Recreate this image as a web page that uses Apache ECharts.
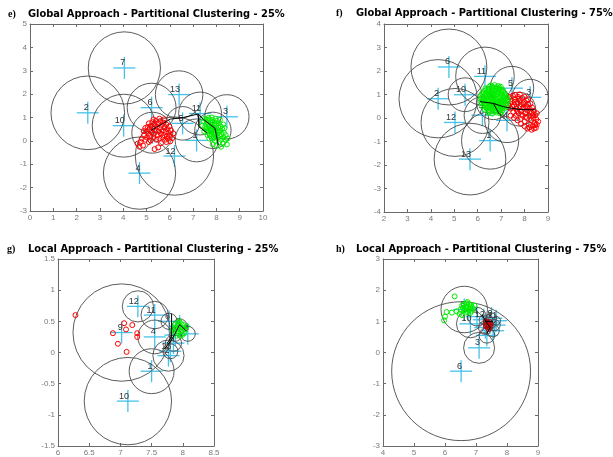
<!DOCTYPE html>
<html>
<head>
<meta charset="utf-8">
<script src="https://cdn.jsdelivr.net/npm/echarts@6/dist/echarts.min.js"></script>
<style>
  html, body { margin: 0; padding: 0; background: #fff; }
  #chart { width: 613px; height: 457px; }
</style>
</head>
<body>
<div id="chart"></div>
<script>
// ---------- e) Global approach, 25% ----------
const eRed = [[4.62,-0.12],[4.70,-0.25],[4.75,-0.05],[4.80,0.10],[4.85,-0.20],[4.90,0.25],[4.95,0.05],[5.00,0.40],[5.02,0.15],[5.05,0.60],[5.08,0.30],[5.10,0.75],[5.12,0.50],[5.15,0.20],[5.18,0.02],[5.20,0.65],[5.22,0.38],[5.25,0.80],[5.28,0.55],[5.30,0.15],[5.32,0.30],[5.35,0.70],[5.38,0.45],[5.40,0.85],[5.42,0.05],[5.45,0.60],[5.48,0.25],[5.50,0.75],[5.52,0.40],[5.55,0.10],[5.58,0.55],[5.60,0.85],[5.62,0.30],[5.65,0.68],[5.68,0.15],[5.70,0.45],[5.72,0.78],[5.75,0.25],[5.78,0.58],[5.80,0.05],[5.82,0.38],[5.85,0.70],[5.88,0.20],[5.90,0.50],[5.92,0.10],[5.95,0.35],[5.98,0.62],[6.00,0.22],[6.05,0.45],[6.10,0.12],[6.15,0.32],[5.35,-0.35],[5.50,-0.28],[5.62,-0.10],[5.85,-0.05],[6.02,-0.02],[5.10,-0.05],[4.95,0.55],[5.55,0.95],[5.30,0.92],[5.75,0.92],[4.88,0.42]];
const eGreen = [[7.45,0.85],[7.50,0.95],[7.55,0.70],[7.58,0.90],[7.60,0.55],[7.62,0.80],[7.65,0.40],[7.68,0.65],[7.70,0.92],[7.72,0.30],[7.74,0.52],[7.76,0.78],[7.78,0.20],[7.80,0.42],[7.82,0.62],[7.84,0.88],[7.86,0.10],[7.88,0.32],[7.90,0.55],[7.92,0.75],[7.94,0.00],[7.96,0.25],[7.98,0.45],[8.00,0.68],[8.02,0.85],[8.04,0.12],[8.06,0.35],[8.08,0.58],[8.10,0.75],[8.12,-0.05],[8.14,0.20],[8.16,0.42],[8.18,0.62],[8.20,0.05],[8.22,0.28],[8.25,0.50],[8.28,-0.12],[8.30,0.15],[8.32,0.35],[8.35,0.55],[8.38,0.05],[8.40,0.25],[8.45,-0.15],[8.48,0.10],[7.52,0.60],[7.66,0.98],[7.80,1.00],[7.95,0.95],[7.70,0.10],[7.85,-0.15],[8.00,-0.20],[8.20,-0.25],[7.62,0.25],[7.58,0.45],[7.90,0.15],[8.10,0.45],[7.85,0.70],[8.00,0.30],[7.75,0.40],[8.15,0.90],[8.30,0.70],[7.40,0.65],[7.48,0.40]];
// cluster centre x, centre y, radius
const eClusters = [[7.15,0.02,0.92],[2.48,1.20,1.58],[8.45,1.03,0.95],[4.70,-1.38,1.55],[6.55,0.75,0.72],[5.22,1.42,1.05],[4.05,3.12,1.55],[7.85,0.45,0.78],[5.25,0.35,0.88],[4.02,0.65,1.35],[7.30,1.17,0.92],[6.20,-0.65,1.68],[6.40,1.98,1.02]];
const eIds = ['1','2','3','4','5','6','7','8','9','10','11','12','13'];
const ePaths = [
  [[5.20,0.45],[6.02,0.93],[6.58,1.00],[7.22,1.15],[7.44,0.92],[7.94,0.54],[8.08,-0.17]],
  [[7.22,1.15],[7.25,0.60],[7.60,0.35]]
];

// ---------- f) Global approach, 75% ----------
const fGreen = [[6.55,1.38],[6.72,1.40],[6.88,1.36],[6.33,1.26],[6.48,1.22],[6.63,1.27],[6.79,1.24],[6.94,1.27],[7.06,1.20],[6.24,1.10],[6.40,1.12],[6.55,1.08],[6.70,1.12],[6.86,1.09],[7.00,1.13],[7.15,1.06],[6.15,0.96],[6.31,0.93],[6.46,0.97],[6.60,0.94],[6.76,0.97],[6.91,0.93],[7.05,0.96],[7.20,0.92],[6.12,0.80],[6.27,0.82],[6.43,0.78],[6.57,0.81],[6.73,0.79],[6.87,0.82],[7.03,0.78],[7.17,0.81],[7.28,0.77],[6.15,0.66],[6.31,0.63],[6.46,0.67],[6.61,0.64],[6.76,0.66],[6.91,0.62],[7.06,0.66],[7.21,0.63],[6.20,0.50],[6.36,0.52],[6.51,0.48],[6.66,0.51],[6.81,0.49],[6.96,0.52],[7.10,0.48],[7.23,0.51],[6.31,0.36],[6.46,0.33],[6.61,0.37],[6.76,0.34],[6.91,0.37],[7.05,0.33],[6.46,0.22],[6.62,0.19],[6.80,0.23],[6.95,0.20],[6.40,1.00],[6.65,0.88],[6.95,0.72],[6.52,0.58],[6.85,0.42],[6.25,0.72],[7.12,0.88],[6.70,1.18],[6.38,0.45],[7.00,0.56],
  [6.47,1.31],[6.64,1.33],[6.81,1.31],[6.98,1.33],[6.32,1.17],[6.47,1.16],[6.62,1.18],[6.78,1.16],[6.93,1.19],[7.09,1.13],[6.20,1.03],[6.36,1.05],[6.52,1.02],[6.68,1.04],[6.83,1.02],[6.98,1.05],[7.13,0.99],[6.19,0.88],[6.35,0.87],[6.50,0.89],[6.66,0.86],[6.81,0.89],[6.97,0.86],[7.11,0.88],[7.24,0.85],[6.20,0.73],[6.35,0.71],[6.51,0.73],[6.66,0.72],[6.81,0.74],[6.97,0.70],[7.13,0.73],[7.26,0.70],[6.26,0.57],[6.41,0.59],[6.57,0.56],[6.72,0.58],[6.88,0.56],[7.03,0.59],[7.17,0.56],[6.38,0.41],[6.54,0.43],[6.69,0.41],[6.84,0.43],[6.99,0.41],[7.14,0.42],[6.53,0.28],[6.70,0.27],[6.87,0.29],[7.02,0.26]];
const fRed = [[7.25,0.75],[7.30,0.55],[7.35,0.90],[7.40,0.40],[7.45,0.70],[7.50,0.95],[7.52,0.25],[7.55,0.55],[7.60,0.80],[7.62,0.10],[7.65,0.40],[7.70,0.65],[7.72,0.90],[7.75,0.20],[7.78,0.50],[7.80,0.75],[7.82,-0.05],[7.85,0.30],[7.88,0.58],[7.90,0.85],[7.92,0.10],[7.95,0.42],[7.98,0.68],[8.00,-0.15],[8.02,0.20],[8.05,0.50],[8.08,0.75],[8.10,0.00],[8.12,0.32],[8.15,0.58],[8.18,-0.25],[8.20,0.10],[8.22,0.40],[8.25,0.62],[8.28,-0.10],[8.30,0.22],[8.32,0.45],[8.35,-0.35],[8.38,0.00],[8.40,0.30],[8.42,-0.20],[8.45,0.12],[8.48,-0.42],[8.50,-0.05],[8.52,-0.28],[8.40,-0.45],[8.30,-0.50],[8.20,-0.40],[8.58,-0.15],[8.52,0.20],[7.40,0.10],[7.55,0.00],[7.70,-0.10],[7.85,-0.25],[8.00,-0.35],[8.12,-0.45],[7.60,0.98],[7.80,1.00],[8.00,0.90],[8.15,0.80],
  [7.38,0.62],[7.48,0.48],[7.58,0.68],[7.68,0.30],[7.75,0.82],[7.88,0.15],[7.95,0.62],[8.05,0.05],[8.12,0.45],[8.25,0.30],[8.35,0.12],[8.45,-0.30]];
const fClusters = [[6.53,-0.96,1.22],[4.31,0.82,1.67],[8.24,0.88,0.77],[7.25,-0.10,0.95],[7.46,1.27,0.93],[4.77,2.17,1.62],[6.20,0.12,0.78],[6.67,0.65,0.72],[7.75,0.38,0.72],[5.46,0.99,0.72],[6.31,1.77,1.25],[5.03,-0.19,1.45],[5.67,-1.75,1.53]];
const fIds = ['1','2','3','4','5','6','7','8','9','10','11','12','13'];
const fPaths = [
  [[6.10,0.70],[6.67,0.62],[7.10,0.48],[7.80,0.36],[8.45,0.35]],
  [[6.67,0.62],[6.90,0.20],[7.15,-0.05]]
];

// ---------- g) Local approach, 25% ----------
const gRed = [[6.28,0.60],[7.06,0.47],[7.19,0.44],[7.09,0.37],[6.88,0.31],[7.27,0.31],[7.27,0.25],[6.96,0.14],[7.10,0.01]];
const gGreen = [[7.88,0.45],[7.92,0.48],[7.97,0.47],[8.01,0.44],[7.86,0.40],[7.90,0.38],[7.95,0.41],[8.00,0.39],[8.04,0.37],[7.87,0.33],[7.92,0.31],[7.97,0.34],[8.02,0.31],[7.90,0.27],[7.96,0.27],[7.94,0.50],[7.84,0.36],[8.06,0.42],[7.99,0.28],[7.93,0.44],[7.98,0.36]];
const gClusters = [[7.50,-0.30,0.36],[7.77,-0.05,0.25],[7.95,0.42,0.12],[7.55,0.25,0.27],[7.85,0.15,0.13],[7.78,0.50,0.13],[7.88,0.28,0.10],[8.08,0.30,0.12],[7.02,0.32,0.78],[7.12,-0.78,0.70],[7.55,0.60,0.22],[7.28,0.74,0.25],[7.80,0.02,0.12]];
const gIds = ['1','2','3','4','5','6','7','8','9','10','11','12','13'];
const gPaths = [
  [[7.70,0.05],[7.82,0.20],[7.90,0.35],[7.95,0.45],[8.05,0.35]],
  [[7.82,0.62],[7.82,0.25],[7.75,0.15]]
];

// ---------- h) Local approach, 75% ----------
const hGreen = [[6.55,1.50],[6.62,1.55],[6.70,1.58],[6.78,1.55],[6.85,1.52],[6.58,1.43],[6.66,1.46],[6.74,1.48],[6.82,1.45],[6.90,1.42],[6.62,1.36],[6.70,1.38],[6.78,1.36],[6.86,1.34],[6.66,1.28],[6.74,1.30],[6.82,1.27],[6.50,1.38],[6.95,1.50],[6.72,1.62],[6.31,1.80],[6.05,1.30],[6.22,1.28],[6.38,1.32],[5.97,1.03],[6.00,1.15],[6.47,1.24],[6.55,1.20]];
const hRed = [[7.32,1.00],[7.38,0.96],[7.44,0.98],[7.35,0.90],[7.41,0.88],[7.47,0.91],[7.38,0.82],[7.44,0.80],[7.32,0.85],[7.40,0.75]];
const hClusters = [[7.35,0.55,0.25],[7.45,0.95,0.20],[7.10,0.15,0.50],[7.03,1.15,0.30],[7.60,0.88,0.18],[6.52,-0.60,2.24],[7.30,0.80,0.22],[6.62,1.38,0.75],[7.50,1.10,0.17],[6.82,0.92,0.45],[7.65,1.02,0.14],[7.25,1.05,0.15],[7.55,0.70,0.20]];
const hIds = ['1','2','3','4','5','6','7','8','9','10','11','12','13'];
const hPaths = [
  [[7.20,1.20],[7.35,0.95],[7.45,0.80],[7.35,0.60]],
  [[7.30,1.00],[7.55,1.00]]
];

// ---------- layout ----------
const panels = [
  { tag: 'e)', title: 'Global Approach - Partitional Clustering - 25%', box: [30, 24, 233, 187], x: [0, 10, 1], y: [-3, 5, 1],
    red: eRed, green: eGreen, clusters: eClusters, ids: eIds, paths: ePaths, redColor: '#ff0000', tagX: 8, titleX: 28, titleY: 14.5 },
  { tag: 'f)', title: 'Global Approach - Partitional Clustering - 75%', box: [384, 24, 164, 188], x: [2, 9, 1], y: [-4, 4, 1],
    red: fRed, green: fGreen, clusters: fClusters, ids: fIds, paths: fPaths, redColor: '#ff0000', tagX: 336, titleX: 356, titleY: 13.5 },
  { tag: 'g)', title: 'Local Approach - Partitional Clustering - 25%', box: [58, 259, 156, 188], x: [6, 8.5, 0.5], y: [-1.5, 1.5, 0.5],
    red: gRed, green: gGreen, clusters: gClusters, ids: gIds, paths: gPaths, redColor: '#ff0000', tagX: 7, titleX: 28, titleY: 249.5 },
  { tag: 'h)', title: 'Local Approach - Partitional Clustering - 75%', box: [383, 259, 155, 188], x: [4, 9, 1], y: [-3, 3, 1],
    red: hRed, green: hGreen, clusters: hClusters, ids: hIds, paths: hPaths, redColor: '#c00000', tagX: 336, titleX: 356, titleY: 249.5 }
];

const AXIS = '#6a6a6a';
const CYAN = '#45c2ea';
const tickFont = { fontSize: 8, color: '#7a7a7a', fontFamily: 'Liberation Sans' };

const grids = [], xAxes = [], yAxes = [], series = [], graphics = [];

panels.forEach((p, i) => {
  grids.push({ left: p.box[0], top: p.box[1], width: p.box[2], height: p.box[3], containLabel: false });
  const common = (range, pos, labels) => ({
    type: 'value', gridIndex: i, position: pos, min: range[0], max: range[1], interval: range[2],
    axisLine: { show: true, onZero: false, lineStyle: { color: AXIS, width: 1 } },
    axisTick: { show: true, inside: true, length: 3, lineStyle: { color: AXIS } },
    axisLabel: Object.assign({ show: labels, margin: 3 }, tickFont),
    splitLine: { show: false }
  });
  xAxes.push(common(p.x, 'bottom', true));
  xAxes.push(common(p.x, 'top', false));
  yAxes.push(common(p.y, 'left', true));
  yAxes.push(common(p.y, 'right', false));
  const xi = 2 * i, yi = 2 * i;

  // member points
  [[p.red, p.redColor], [p.green, '#00ee00']].forEach(([pts, col]) => {
    series.push({
      type: 'scatter', xAxisIndex: xi, yAxisIndex: yi, data: pts, silent: true,
      symbol: 'circle', symbolSize: 5,
      itemStyle: { color: 'rgba(0,0,0,0)', borderColor: col, borderWidth: 1, opacity: 1 }
    });
  });

  // cluster centres: cross markers with their numbers
  const ids = p.ids;
  series.push({
    type: 'custom', xAxisIndex: xi, yAxisIndex: yi, silent: true,
    data: p.clusters, encode: { x: 0, y: 1 },
    renderItem: (params, api) => {
      const c = api.coord([api.value(0), api.value(1)]);
      const h = 11;
      return {
        type: 'group', children: [
          { type: 'line', shape: { x1: c[0] - h, y1: c[1], x2: c[0] + h, y2: c[1] }, style: { stroke: CYAN, lineWidth: 1.3 } },
          { type: 'line', shape: { x1: c[0], y1: c[1] - h, x2: c[0], y2: c[1] + h }, style: { stroke: CYAN, lineWidth: 1.3 } },
          { type: 'text', style: { text: ids[params.dataIndex], x: c[0] + 1, y: c[1] - 5,
              align: 'right', verticalAlign: 'middle', textAlign: 'right', textVerticalAlign: 'middle',
              font: '9px "Liberation Sans"', fill: '#333' } }
        ]
      };
    }
  });

  // cluster extents
  series.push({
    type: 'custom', xAxisIndex: xi, yAxisIndex: yi, silent: true,
    data: p.clusters, encode: { x: 0, y: 1 },
    renderItem: (params, api) => {
      const c = api.coord([api.value(0), api.value(1)]);
      const r = api.size([api.value(2), 0])[0];
      return { type: 'circle', shape: { cx: c[0], cy: c[1], r: r }, style: { fill: 'none', stroke: '#4a4a4a', lineWidth: 0.9 } };
    }
  });

  // centre trajectories
  p.paths.forEach(path => {
    series.push({
      type: 'line', xAxisIndex: xi, yAxisIndex: yi, data: path, silent: true,
      symbol: 'none', lineStyle: { color: '#000', width: 1 }
    });
  });

  graphics.push({ type: 'text', x: p.tagX, y: p.titleY, style: { text: p.tag, font: 'bold 10px "Liberation Serif"', fill: '#000', textVerticalAlign: 'middle', verticalAlign: 'middle' } });
  graphics.push({ type: 'text', x: p.titleX, y: p.titleY, style: { text: p.title, font: 'bold 9.9px "DejaVu Sans"', fill: '#000', textVerticalAlign: 'middle', verticalAlign: 'middle' } });
});

const chart = echarts.init(document.getElementById('chart'), null, { renderer: 'canvas' });
chart.setOption({
  backgroundColor: '#fff',
  animation: false,
  grid: grids,
  xAxis: xAxes,
  yAxis: yAxes,
  series: series,
  graphic: graphics
});
</script>
</body>
</html>
